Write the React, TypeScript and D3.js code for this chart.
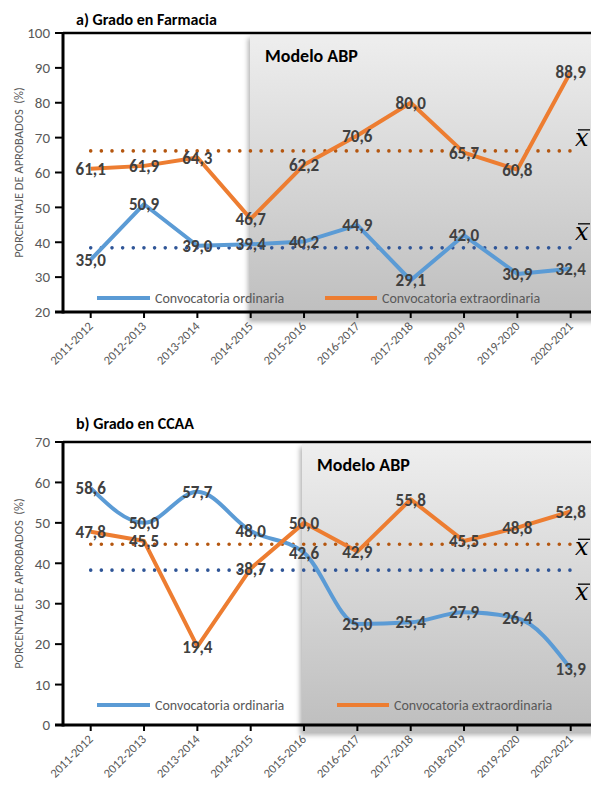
import React from 'react';
import * as d3 from 'd3';

const categories = ['2011-2012', '2012-2013', '2013-2014', '2014-2015', '2015-2016',
  '2016-2017', '2017-2018', '2018-2019', '2019-2020', '2020-2021'];

const farmaciaOrdinaria = [35.0, 50.9, 39.0, 39.4, 40.2, 44.9, 29.1, 42.0, 30.9, 32.4];
const farmaciaExtra = [61.1, 61.9, 64.3, 46.7, 62.2, 70.6, 80.0, 65.7, 60.8, 88.9];
const farmaciaMeans = [38.4, 66.2]; // ordinaria, extraordinaria

const ccaaOrdinaria = [58.6, 50.0, 57.7, 48.0, 42.6, 25.0, 25.4, 27.9, 26.4, 13.9];
const ccaaExtra = [47.8, 45.5, 19.4, 38.7, 50.0, 42.9, 55.8, 45.5, 48.8, 52.8];
const ccaaMeans = [38.3, 44.7];

const seriesNames = ['Convocatoria ordinaria', 'Convocatoria extraordinaria'];

const BLUE = '#5B9BD5';
const ORANGE = '#ED7D31';
const BLUE_DARK = '#2F5597';
const ORANGE_DARK = '#B4560F';
const GREY_TEXT = '#595959';
const LABEL = '#404040';
const FONT = 'Carlito, Lato, "Open Sans", sans-serif';

const fmt = (v: number) => v.toFixed(1).replace('.', ',');

interface ChartProps {
  id: string;
  title: string;
  titleY: number;
  top: number;
  bottom: number;
  domain: [number, number];
  ordinaria: number[];
  extra: number[];
  means: number[];
  boxX: number;
  legendY: number;
  legendX2: number;
  smoothOrd: boolean;
  xbarDy: number[];
}

const LEFT = 63;
const RIGHT = 597;

const Chart: React.FC<ChartProps> = (p) => {
  const x = d3.scalePoint<string>().domain(categories).range([90.7, 570.7]);
  const y = d3.scaleLinear().domain(p.domain).range([p.bottom, p.top]);
  const yTicks = y.ticks((p.domain[1] - p.domain[0]) / 10);

  const lineStraight = d3.line<number>()
    .x((_, i) => x(categories[i])!)
    .y((d) => y(d));
  const lineSmooth = d3.line<number>()
    .x((_, i) => x(categories[i])!)
    .y((d) => y(d))
    .curve(d3.curveMonotoneX);

  const series = [
    { values: p.ordinaria, color: BLUE, dark: BLUE_DARK, mean: p.means[0], line: p.smoothOrd ? lineSmooth : lineStraight },
    { values: p.extra, color: ORANGE, dark: ORANGE_DARK, mean: p.means[1], line: lineStraight },
  ];
  const midY = (p.top + p.bottom) / 2;
  const x0 = x(categories[0])!;
  const x1 = x(categories[categories.length - 1])!;

  return (
    <g>
      <defs>
        <linearGradient id={`grad-${p.id}`} x1="0" y1="0" x2="0" y2="1">
          <stop offset="0" stopColor="#EEEEEE" />
          <stop offset="1" stopColor="#BEBEBE" />
        </linearGradient>
        <filter id={`shadow-${p.id}`} x="-10%" y="-10%" width="120%" height="120%">
          <feDropShadow dx="-2" dy="3" stdDeviation="2.5" floodColor="#000" floodOpacity="0.3" />
        </filter>
      </defs>
      <text x={76} y={p.titleY} fontFamily={FONT} fontWeight="bold" fontSize={16} fill="#000">{p.title}</text>

      {/* ABP box */}
      <rect x={p.boxX} y={p.top + 2} width={RIGHT - p.boxX + 10} height={p.bottom - p.top + 5}
        fill={`url(#grad-${p.id})`} filter={`url(#shadow-${p.id})`} />
      <text x={p.boxX + 15} y={p.top + 29} fontFamily={FONT} fontWeight="bold" fontSize={18} fill="#000">Modelo ABP</text>

      {/* axes frame */}
      <line x1={LEFT} x2={RIGHT} y1={p.top} y2={p.top} stroke="#000" strokeWidth={2.5} />
      <line x1={LEFT} x2={LEFT} y1={p.top} y2={p.bottom + 1.5} stroke="#000" strokeWidth={3} />
      <line x1={LEFT - 8} x2={RIGHT} y1={p.bottom} y2={p.bottom} stroke="#000" strokeWidth={3} />
      {yTicks.map((t) => (
        <g key={t}>
          <line x1={LEFT - 8} x2={LEFT} y1={y(t)} y2={y(t)} stroke="#000" strokeWidth={2} />
          <text x={50} y={y(t)} dy="0.35em" textAnchor="end" fontFamily={FONT} fontSize={15} fill={GREY_TEXT}>{t}</text>
        </g>
      ))}
      {categories.map((c) => (
        <g key={c}>
          <line x1={x(c)!} x2={x(c)!} y1={p.bottom} y2={p.bottom + 6} stroke="#000" strokeWidth={2} />
          <text transform={`translate(${x(c)! + 3},${p.bottom + 15}) rotate(-45)`} textAnchor="end"
            fontFamily={FONT} fontSize={12.5} fill={GREY_TEXT}>{c}</text>
        </g>
      ))}
      <text transform={`translate(23,${midY}) rotate(-90)`} textAnchor="middle" fontFamily={FONT}
        fontSize={12.5} fill={GREY_TEXT} style={{ whiteSpace: 'pre' }}>{'PORCENTAJE DE APROBADOS  (%)'}</text>

      {/* mean lines */}
      {series.map((s, k) => (
        <g key={`m${k}`}>
          <line x1={x0} x2={x1} y1={y(s.mean)} y2={y(s.mean)} stroke={s.dark} strokeWidth={3.6}
            strokeDasharray="0 10.65" strokeLinecap="round" />
          <text x={575} y={y(s.mean) + p.xbarDy[k]} fontFamily='"DejaVu Serif", serif' fontStyle="italic"
            fontSize={24} fill="#000">x</text>
          <line x1={578} x2={590} y1={y(s.mean) + p.xbarDy[k] - 16} y2={y(s.mean) + p.xbarDy[k] - 16}
            stroke="#000" strokeWidth={1.3} />
        </g>
      ))}

      {/* series */}
      {series.map((s, k) => (
        <path key={`l${k}`} d={s.line(s.values)!} fill="none" stroke={s.color} strokeWidth={4}
          strokeLinejoin="round" />
      ))}
      {series.map((s, k) => s.values.map((v, i) => (
        <text key={`t${k}-${i}`} x={x(categories[i])!} y={y(v)} dy="0.36em" textAnchor="middle"
          fontFamily={FONT} fontWeight="bold" fontSize={17} fill={LABEL}>{fmt(v)}</text>
      )))}

      {/* legend */}
      <line x1={97} x2={150} y1={p.legendY} y2={p.legendY} stroke={BLUE} strokeWidth={4} />
      <text x={155} y={p.legendY} dy="0.35em" fontFamily={FONT} fontSize={14} fill={GREY_TEXT}>{seriesNames[0]}</text>
      <line x1={p.legendX2} x2={p.legendX2 + 52} y1={p.legendY} y2={p.legendY} stroke={ORANGE} strokeWidth={4} />
      <text x={p.legendX2 + 57} y={p.legendY} dy="0.35em" fontFamily={FONT} fontSize={14} fill={GREY_TEXT}>{seriesNames[1]}</text>
    </g>
  );
};

export default function App() {
  return (
    <svg width={591} height={797} style={{ position: 'absolute', left: 0, top: 0, background: '#fff' }}>
      <Chart id="a" title="a) Grado en Farmacia" titleY={25} top={33} bottom={312} domain={[20, 100]}
        ordinaria={farmaciaOrdinaria} extra={farmaciaExtra} means={farmaciaMeans}
        boxX={250} legendY={298} legendX2={325} smoothOrd={false} xbarDy={[-8, -5]} />
      <Chart id="b" title="b) Grado en CCAA" titleY={429} top={442} bottom={725} domain={[0, 70]}
        ordinaria={ccaaOrdinaria} extra={ccaaExtra} means={ccaaMeans}
        boxX={302} legendY={705} legendX2={337} smoothOrd={true} xbarDy={[30, 11]} />
    </svg>
  );
}
